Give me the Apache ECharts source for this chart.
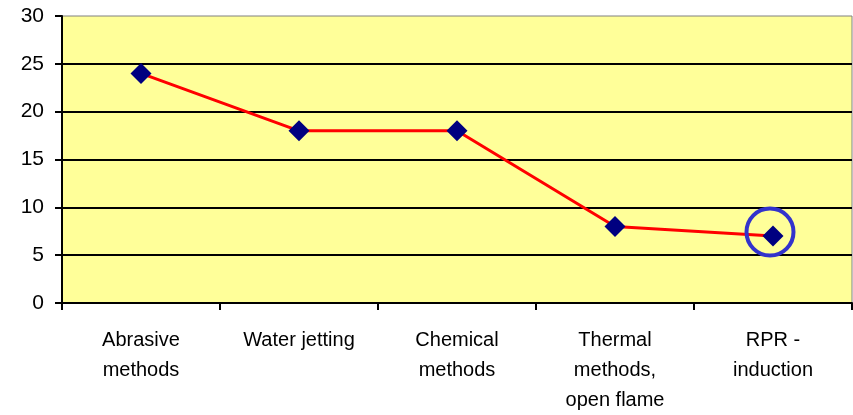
<!DOCTYPE html>
<html>
<head>
<meta charset="utf-8">
<script src="https://cdn.jsdelivr.net/npm/echarts@6/dist/echarts.min.js"></script>
<style>
  html, body { margin: 0; padding: 0; background: #fff; }
  #chart { width: 853px; height: 415px; }
</style>
</head>
<body>
<div id="chart"></div>
<script>
var categories = ['Abrasive\nmethods', 'Water jetting', 'Chemical\nmethods', 'Thermal\nmethods,\nopen flame', 'RPR -\ninduction'];
var values = [24, 18, 18, 8, 7];
var yTicks = [0, 5, 10, 15, 20, 25, 30];
var highlightIndex = 4;

var chart = echarts.init(document.getElementById('chart'));
var option = {
    backgroundColor: '#fff',
    animation: false,
    grid: {
        left: 62,
        right: 1,
        top: 16,
        bottom: 111,
        show: true,
        backgroundColor: '#FFFF99',
        borderColor: '#808080',
        borderWidth: 1
    },
    xAxis: {
        type: 'category',
        data: categories,
        boundaryGap: true,
        axisLine: { show: true, lineStyle: { color: '#000', width: 2 } },
        axisTick: { show: true, length: 7, lineStyle: { color: '#000', width: 2 } },
        axisLabel: {
            interval: 0,
            margin: 22,
            fontFamily: 'Liberation Sans, Arial',
            fontSize: 20,
            lineHeight: 30,
            color: '#000'
        },
        splitLine: { show: false }
    },
    yAxis: {
        type: 'value',
        min: yTicks[0],
        max: yTicks[yTicks.length - 1],
        interval: 5,
        axisLine: { show: true, lineStyle: { color: '#000', width: 2 } },
        axisTick: { show: true, length: 7, lineStyle: { color: '#000', width: 2 } },
        axisLabel: {
            margin: 18,
            fontFamily: 'Liberation Sans, Arial',
            fontSize: 21,
            color: '#000'
        },
        splitLine: { show: true, showMaxLine: false, lineStyle: { color: '#000', width: 2 } }
    },
    series: [{
        type: 'line',
        data: values,
        symbol: 'diamond',
        symbolSize: 21,
        itemStyle: { color: '#000080' },
        lineStyle: { color: '#FF0000', width: 3 },
        markPoint: {
            symbol: 'circle',
            symbolSize: 47,
            symbolOffset: [-3, -4],
            silent: true,
            label: { show: false },
            itemStyle: { color: 'rgba(0,0,0,0)', borderColor: '#3333CC', borderWidth: 4 },
            data: [{ coord: [highlightIndex, values[highlightIndex]] }]
        }
    }]
};
chart.setOption(option);
</script>
</body>
</html>
